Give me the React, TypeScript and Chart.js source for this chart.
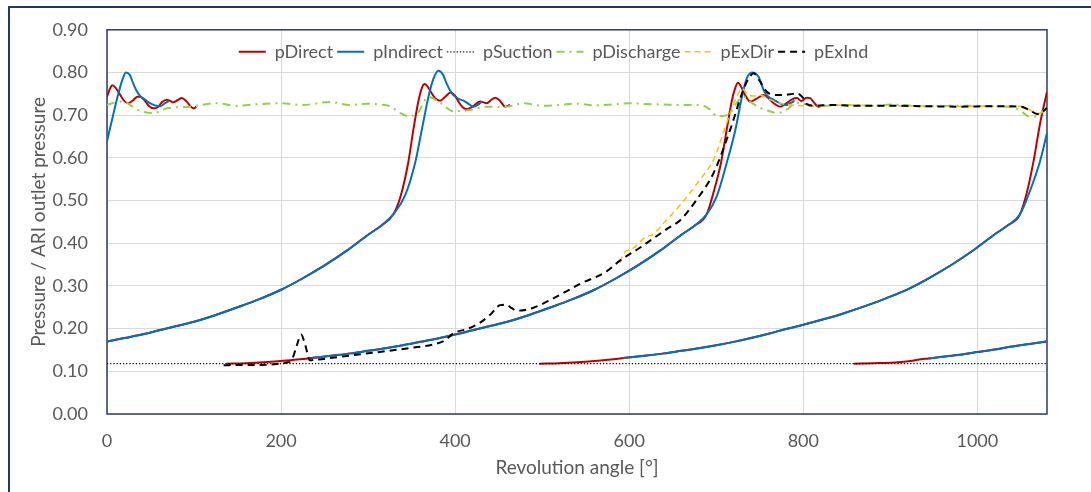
import React, { useEffect, useRef } from 'react';
import { Chart, registerables } from 'chart.js';

Chart.register(...registerables);

type Pt = [number, number];

// ---------- tick / axis settings ----------
const xTicksStep = 200;
const xMax = 1080;
const yMax = 0.9;
const yStep = 0.1;

// ---------- compression curves (shared by pDirect and pIndirect) ----------
const compA: Pt[] = [[0,0.170],[20,0.178],[40,0.186],[60,0.196],[80,0.206],[100,0.216],[125,0.232],[150,0.250],[175,0.269],[200,0.291],[225,0.318],[250,0.348],[275,0.382],[300,0.420],[315,0.441],[329,0.468]];
const compB: Pt[] = [[235,0.131],[260,0.137],[280,0.142],[300,0.148],[320,0.154],[340,0.161],[360,0.169],[380,0.177],[400,0.186],[420,0.196],[440,0.206],[460,0.216],[485,0.232],[510,0.250],[535,0.269],[560,0.291],[585,0.318],[610,0.348],[635,0.382],[660,0.420],[675,0.441],[689,0.468]];
const compC: Pt[] = [[593,0.131],[620,0.137],[640,0.142],[660,0.148],[680,0.154],[700,0.161],[720,0.169],[740,0.178],[760,0.188],[780,0.199],[800,0.209],[820,0.220],[845,0.235],[870,0.252],[895,0.271],[920,0.292],[945,0.319],[970,0.349],[995,0.383],[1020,0.421],[1035,0.442],[1049,0.468]];
const compD: Pt[] = [[944,0.130],[960,0.134],[980,0.139],[1000,0.145],[1020,0.151],[1040,0.158],[1060,0.164],[1080,0.170]];

// ---------- pDirect specific ----------
const directTail0: Pt[] = [[0,0.743],[3,0.76],[6,0.77],[10,0.764],[15,0.748],[20,0.733],[24.5,0.728],[30,0.735],[35,0.743],[38,0.743],[43,0.735],[48,0.722],[53,0.716],[58,0.718],[63,0.73],[68.6,0.736],[73,0.733],[76,0.73],[81,0.735],[86,0.74],[91,0.733],[97.4,0.718],[100,0.716],[102.5,0.72]];
const directPeak1: Pt[] = [[329,0.468],[337.6,0.512],[346,0.588],[352,0.666],[358,0.735],[362,0.765],[364.7,0.773],[368,0.768],[372,0.755],[377,0.74],[382.8,0.734],[388,0.742],[395,0.753],[400,0.745],[405,0.728],[409,0.718],[413.4,0.714],[420,0.72],[428.7,0.732],[436.4,0.728],[441,0.735],[446,0.741],[451,0.735],[457.5,0.72],[463,0.724]];
const directPeak2: Pt[] = [[689,0.468],[697,0.52],[705.4,0.588],[712,0.666],[718,0.735],[722,0.765],[725,0.776],[729,0.765],[733,0.748],[739,0.732],[746,0.738],[754,0.747],[760,0.74],[766,0.728],[773.6,0.72],[780,0.727],[787,0.737],[792.7,0.74],[798,0.733],[804,0.741],[808,0.74],[812,0.73],[817.6,0.72],[820,0.721]];
const directRise3: Pt[] = [[1049,0.468],[1057,0.52],[1064.6,0.593],[1072,0.68],[1080,0.755]];
const directLow1: Pt[] = [[137,0.118],[160,0.119],[180,0.121],[199,0.124],[215,0.127],[225,0.129],[235,0.131]];
const directLow2: Pt[] = [[497,0.118],[520,0.119],[540,0.121],[560,0.124],[575,0.127],[585,0.129],[593,0.131]];
const directLow3: Pt[] = [[858,0.118],[880,0.119],[900,0.120],[912,0.122],[925,0.125],[935,0.128],[944,0.130]];

// ---------- pIndirect specific ----------
const indirectTail0: Pt[] = [[0,0.639],[7,0.70],[13,0.75],[18,0.785],[21.8,0.80],[26,0.795],[30,0.775],[34,0.757],[38,0.745],[44,0.736],[49.4,0.728],[55,0.723],[61,0.721],[66,0.727],[71,0.733]];
const indirectPeak1: Pt[] = [[329,0.468],[342.5,0.512],[354,0.588],[361.7,0.666],[369,0.74],[375,0.785],[380.8,0.804],[386,0.795],[390,0.775],[395,0.755],[398,0.747],[404,0.738],[409.6,0.734],[415,0.727],[421,0.72],[426,0.724],[430.7,0.732]];
const indirectPeak2: Pt[] = [[689,0.468],[700.8,0.511],[712,0.588],[722,0.666],[729.5,0.743],[735,0.786],[741,0.80],[748.6,0.79],[754.4,0.759],[758,0.747],[764,0.738],[769.7,0.732],[775,0.726],[781,0.724],[785,0.728],[790,0.734]];
const indirectRise3: Pt[] = [[1049,0.468],[1060,0.52],[1072,0.592],[1080,0.658]];

// ---------- other series ----------
const suction: Pt[] = [[0,0.118],[1080,0.118]];
const discharge: Pt[] = [[0,0.724],[10,0.73],[19,0.732],[28,0.722],[38,0.71],[53,0.705],[69,0.716],[95,0.72],[126,0.728],[149,0.722],[175,0.726],[200,0.728],[225,0.724],[256,0.731],[279,0.724],[300,0.727],[314,0.725],[325,0.721],[337,0.705],[346,0.698],[357,0.705],[369,0.743],[383,0.729],[398,0.709],[417,0.712],[436,0.72],[459,0.72],[478,0.728],[500,0.722],[520,0.724],[540,0.727],[560,0.723],[580,0.725],[600,0.728],[620,0.726],[640,0.725],[658,0.724],[682,0.724],[693,0.713],[701,0.698],[708,0.698],[716,0.705],[724,0.73],[731,0.743],[740,0.73],[751,0.717],[760,0.71],[770,0.705],[780,0.712],[793,0.729],[805,0.725],[820,0.722],[850,0.724],[880,0.722],[900,0.725],[940,0.721],[980,0.722],[1020,0.721],[1040,0.718],[1050,0.71],[1058,0.698],[1066,0.697],[1073,0.705],[1080,0.718]];
const exDir: Pt[] = [[589.7,0.355],[592.7,0.373],[605,0.389],[620,0.416],[626,0.419],[639.5,0.447],[658.6,0.49],[681.6,0.55],[697,0.596],[708,0.658],[716,0.705],[723,0.74],[729.5,0.763],[735,0.75],[742,0.745],[750.6,0.747],[760,0.738],[773.6,0.728],[790,0.723],[819.5,0.722],[850,0.724],[880,0.722],[920,0.722],[960,0.721],[1000,0.721],[1049,0.721],[1060,0.712],[1068.6,0.703],[1075,0.708],[1080,0.717]];
const exInd: Pt[] = [[134,0.114],[150,0.115],[170,0.115],[195,0.117],[205,0.12],[212,0.126],[218,0.16],[223,0.186],[228,0.16],[233,0.126],[240,0.127],[264,0.133],[291,0.14],[320,0.147],[350,0.155],[375,0.163],[388,0.172],[398,0.189],[415,0.2],[428.7,0.214],[440,0.232],[451.7,0.255],[459,0.256],[465,0.248],[471,0.242],[490,0.249],[513,0.271],[543.7,0.305],[574,0.334],[589.7,0.36],[612.6,0.39],[643,0.433],[658.6,0.454],[677.8,0.503],[697,0.565],[716,0.666],[731,0.759],[737,0.785],[743,0.798],[750,0.78],[758,0.755],[766,0.748],[773.6,0.747],[785,0.749],[792.7,0.751],[800,0.74],[804,0.726],[815,0.722],[830,0.724],[860,0.722],[900,0.722],[940,0.721],[980,0.72],[1020,0.721],[1049,0.72],[1060,0.712],[1068.6,0.703],[1075,0.708],[1080,0.717]];

// ---------- helpers ----------
const join = (...parts: Pt[][]): Pt[] => {
  const out: Pt[] = [];
  parts.forEach((p) => {
    p.forEach((pt) => {
      const last = out[out.length - 1];
      if (!last || last[0] !== pt[0]) out.push(pt);
    });
  });
  return out;
};
const toData = (segments: Pt[][]) => {
  const out: { x: number; y: number | null }[] = [];
  segments.forEach((s, i) => {
    if (i > 0) out.push({ x: s[0][0], y: null });
    s.forEach(([x, y]) => out.push({ x, y }));
  });
  return out;
};

const directSegments = [
  directTail0,
  join(compA, directPeak1),
  join(directLow1, compB, directPeak2),
  join(directLow2, compC, directRise3),
  join(directLow3, compD),
];
const indirectSegments = [
  indirectTail0,
  join(compA, indirectPeak1),
  join(compB, indirectPeak2),
  join(compC, indirectRise3),
  compD,
];

const FONT = 'Lato, "Open Sans", sans-serif';
const GREY = '#595959';

const plotBorder = {
  id: 'plotBorder',
  beforeDatasetsDraw(chart: any) {
    const { ctx, chartArea: a } = chart;
    ctx.save();
    ctx.strokeStyle = '#2E3C68';
    ctx.lineWidth = 1.5;
    ctx.strokeRect(a.left, a.top, a.right - a.left, a.bottom - a.top);
    ctx.restore();
  },
};

// the legend sits inside the plot area in the reference: move the drawn legend down
const legendShift = {
  id: 'legendShift',
  afterLayout(chart: any) {
    const l = chart.legend;
    if (!l) return;
    const dx = 30;
    const dy = 34;
    l.left += dx;
    l.right += dx;
    l.top += dy;
    l.bottom += dy;
  },
};

export default function App() {
  const ref = useRef<HTMLCanvasElement | null>(null);

  useEffect(() => {
    if (!ref.current) return;
    const common = {
      pointRadius: 0,
      pointHoverRadius: 0,
      fill: false,
      cubicInterpolationMode: 'monotone' as const,
      spanGaps: false,
    };
    const defaultLabels = Chart.defaults.plugins.legend.labels.generateLabels;
    const chart = new Chart(ref.current, {
      type: 'line',
      data: {
        datasets: [
          { ...common, label: 'pDirect', data: toData(directSegments), borderColor: '#C00000', backgroundColor: '#C00000', borderWidth: 2, order: 6 },
          { ...common, label: 'pIndirect', data: toData(indirectSegments), borderColor: '#0070C0', backgroundColor: '#0070C0', borderWidth: 2, order: 5 },
          { ...common, label: 'pSuction', data: toData([suction]), borderColor: '#000000', backgroundColor: '#000000', borderWidth: 1.2, borderDash: [1.2, 2], order: 4 },
          { ...common, label: 'pDischarge', data: toData([discharge]), borderColor: '#92D050', backgroundColor: '#92D050', borderWidth: 2, borderDash: [8, 5, 2, 5], order: 3 },
          { ...common, label: 'pExDir', data: toData([exDir]), borderColor: '#FFC000', backgroundColor: '#FFC000', borderWidth: 1.5, borderDash: [6, 4], order: 2 },
          { ...common, label: 'pExInd', data: toData([exInd]), borderColor: '#000000', backgroundColor: '#000000', borderWidth: 2, borderDash: [7, 5], order: 1 },
        ],
      },
      options: {
        responsive: false,
        animation: false,
        devicePixelRatio: 1,
        events: [],
        layout: { padding: { left: 0, top: 0, right: 44, bottom: 0 } },
        plugins: {
          tooltip: { enabled: false },
          legend: {
            position: 'top',
            align: 'center',
            maxHeight: 25,
            labels: {
              usePointStyle: true,
              pointStyle: 'line',
              pointStyleWidth: 27,
              boxHeight: 18,
              padding: 4,
              color: GREY,
              font: { family: FONT, size: 18 },
              sort: (a: any, b: any) => a.datasetIndex - b.datasetIndex,
              generateLabels: (c: any) =>
                defaultLabels(c).map((item: any) => {
                  const ds = c.data.datasets[item.datasetIndex];
                  return {
                    ...item,
                    lineDash: ds.borderDash || [],
                    lineWidth: ds.borderWidth,
                    strokeStyle: ds.borderColor,
                    fillStyle: ds.borderColor,
                    pointStyle: 'line',
                  };
                }),
            },
          },
        },
        scales: {
          x: {
            type: 'linear',
            min: 0,
            max: xMax,
            border: { display: false },
            grid: { color: '#D9D9D9', lineWidth: 1, drawTicks: false },
            ticks: {
              stepSize: xTicksStep,
              includeBounds: false,
              padding: 16,
              color: GREY,
              font: { family: FONT, size: 18 },
              maxRotation: 0,
              callback: (v: any) => String(v),
            },
            title: {
              display: true,
              text: 'Revolution angle [°]',
              color: GREY,
              font: { family: FONT, size: 19 },
              padding: { top: 0, bottom: 13 },
            },
            afterFit: (s: any) => { s.height = 78; },
          },
          y: {
            type: 'linear',
            min: 0,
            max: yMax,
            border: { display: false },
            grid: { color: '#D9D9D9', lineWidth: 1, drawTicks: false },
            ticks: {
              stepSize: yStep,
              padding: 19,
              color: GREY,
              font: { family: FONT, size: 18 },
              callback: (v: any) => Number(v).toFixed(2),
            },
            title: {
              display: true,
              text: 'Pressure / ARI outlet pressure',
              color: GREY,
              font: { family: FONT, size: 19 },
              padding: { top: 27, bottom: 0 },
            },
            afterFit: (s: any) => { s.width = 107; },
          },
        },
      },
      plugins: [plotBorder, legendShift],
    } as any);
    return () => chart.destroy();
  }, []);

  return (
    <div style={{ position: 'fixed', left: 0, top: 0, width: 1091, height: 492, overflow: 'hidden', background: '#ffffff' }}>
      <div style={{ position: 'absolute', left: 8, top: 6, width: 1120, height: 520, border: '2px solid #1F3864', boxSizing: 'border-box' }} />
      <canvas ref={ref} width={1091} height={492} style={{ position: 'absolute', left: 0, top: 0, width: 1091, height: 492 }} />
    </div>
  );
}
